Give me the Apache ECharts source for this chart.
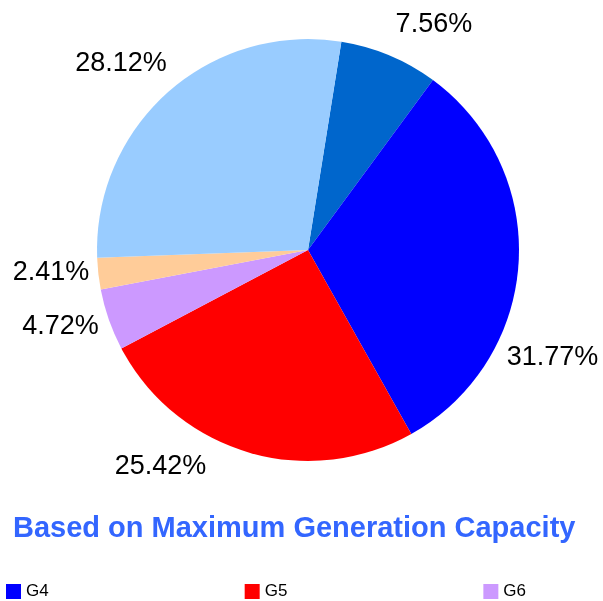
<!DOCTYPE html>
<html>
<head>
<meta charset="utf-8">
<script src="https://cdn.jsdelivr.net/npm/echarts@6/dist/echarts.min.js"></script>
<style>
  html, body { margin: 0; padding: 0; background: #fff; }
  #main { width: 603px; height: 601px; }
</style>
</head>
<body>
<div id="main"></div>
<script>
// slice data (clockwise, starting just right of 12 o'clock)
var names = ["G3", "G4", "G5", "G6", "G7", "G8"];
var shares = [7.56, 31.77, 25.42, 4.72, 2.41, 28.12];
var colors = ["#0066CC", "#0000FF", "#FF0000", "#CC99FF", "#FFCC99", "#99CCFF"];
var legendNames = ["G4", "G5", "G6"];

// label placement (angle nudge in degrees, distance from centre)
var labelNudge = [6.5, 20.2, 17.8, 2.2, 1.4, -3.6];
var labelDist = [258, 267, 262, 259, 258, 264];

var cx = 308, cy = 250, radius = 211, startAngle = 80.9;

// mid angle of every slice, clockwise from 12 o'clock
var total = shares.reduce(function (a, b) { return a + b; }, 0);
var midAngles = [];
var acc = 90 - startAngle;
shares.forEach(function (v) {
  var span = v / total * 360;
  midAngles.push(acc + span / 2);
  acc += span;
});

var myChart = echarts.init(document.getElementById("main"));
myChart.setOption({
  animation: false,
  color: colors,
  title: {
    text: "Based on Maximum Generation Capacity",
    left: 8,
    top: 509,
    textStyle: {
      color: "#3366FF",
      fontSize: 29,
      fontWeight: "bold",
      fontFamily: "Liberation Sans, Arial, sans-serif"
    }
  },
  legend: {
    data: legendNames,
    left: 6,
    top: 583,
    padding: 0,
    itemWidth: 15,
    itemHeight: 15,
    itemGap: 196,
    icon: "rect",
    textStyle: {
      fontSize: 17,
      color: "#000",
      fontFamily: "Liberation Sans, Arial, sans-serif"
    }
  },
  series: [
    {
      type: "pie",
      center: [cx, cy],
      radius: radius,
      startAngle: startAngle,
      clockwise: true,
      avoidLabelOverlap: false,
      itemStyle: { borderWidth: 0 },
      label: {
        show: true,
        position: "outside",
        formatter: function (p) { return shares[p.dataIndex].toFixed(2) + "%"; },
        fontSize: 27,
        color: "#000",
        fontFamily: "Liberation Sans, Arial, sans-serif"
      },
      labelLine: { show: false },
      labelLayout: function (params) {
        var i = params.dataIndex;
        var a = (midAngles[i] + labelNudge[i]) * Math.PI / 180;
        return {
          x: cx + labelDist[i] * Math.sin(a),
          y: cy - labelDist[i] * Math.cos(a),
          align: "center",
          verticalAlign: "middle"
        };
      },
      emphasis: { disabled: true },
      data: names.map(function (n, i) {
        return { name: n, value: shares[i] };
      })
    }
  ]
});
</script>
</body>
</html>
